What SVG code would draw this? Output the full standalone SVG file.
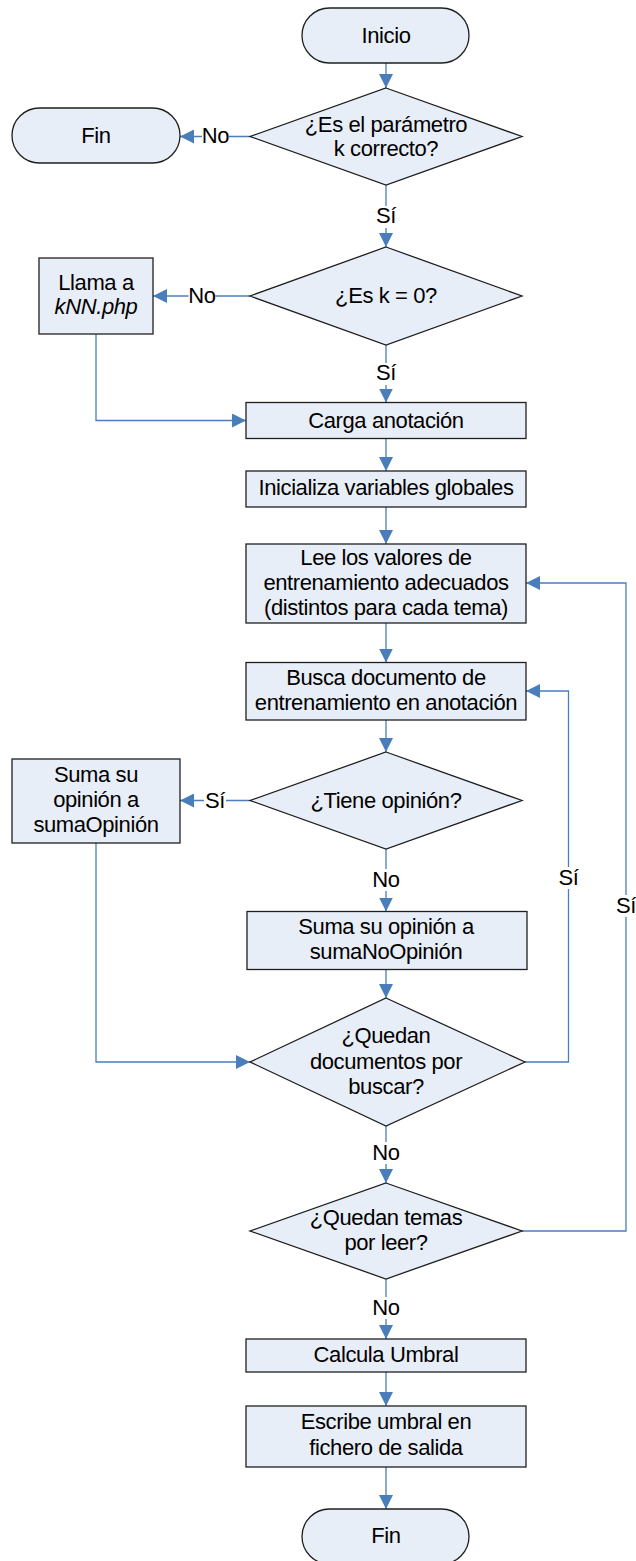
<svg xmlns="http://www.w3.org/2000/svg" width="636" height="1561" viewBox="0 0 636 1561">
  <style>
    .shape { fill: #E8EEF7; stroke: #1f1f1f; stroke-width: 1.3; }
    .t { font-family: "Liberation Sans", Arial, sans-serif; font-size: 22px; letter-spacing: -0.4px; fill: #000; text-anchor: middle; }
    .it { font-style: italic; }
    .edge { fill: none; stroke: #4A7EBB; stroke-width: 1.3; }
    .lblbg { fill: #ffffff; }
  </style>
  <defs>
    <marker id="ah" markerUnits="userSpaceOnUse" markerWidth="15" markerHeight="14" refX="14" refY="7" orient="auto">
      <path d="M0,0 L14,7 L0,14 z" fill="#4A7EBB"/>
    </marker>
  </defs>

  <rect width="636" height="1561" fill="#ffffff"/>

  <!-- connectors -->
  <g id="connectors">
    <path class="edge" d="M386,63 V88" marker-end="url(#ah)"/>
    <path class="edge" d="M250,136.5 H180" marker-end="url(#ah)"/>
    <path class="edge" d="M386,185 V247" marker-end="url(#ah)"/>
    <path class="edge" d="M250,296 H153" marker-end="url(#ah)"/>
    <path class="edge" d="M386,345 V402.5" marker-end="url(#ah)"/>
    <path class="edge" d="M96,334 V420.5 H246" marker-end="url(#ah)"/>
    <path class="edge" d="M386,438.5 V471" marker-end="url(#ah)"/>
    <path class="edge" d="M386,507 V544" marker-end="url(#ah)"/>
    <path class="edge" d="M386,623 V662.5" marker-end="url(#ah)"/>
    <path class="edge" d="M386,720 V752" marker-end="url(#ah)"/>
    <path class="edge" d="M250,800.5 H180" marker-end="url(#ah)"/>
    <path class="edge" d="M386,849 V911.5" marker-end="url(#ah)"/>
    <path class="edge" d="M386,969.5 V998" marker-end="url(#ah)"/>
    <path class="edge" d="M96,843 V1062 H250" marker-end="url(#ah)"/>
    <path class="edge" d="M525,1062 H568.5 V691 H526" marker-end="url(#ah)"/>
    <path class="edge" d="M386,1126 V1183" marker-end="url(#ah)"/>
    <path class="edge" d="M522,1231 H626 V583 H526" marker-end="url(#ah)"/>
    <path class="edge" d="M386,1279 V1339" marker-end="url(#ah)"/>
    <path class="edge" d="M386,1372 V1406" marker-end="url(#ah)"/>
    <path class="edge" d="M386,1467 V1509" marker-end="url(#ah)"/>

    <!-- branch labels -->
    <g id="labels">
      <rect class="lblbg" x="202" y="125" width="27" height="22"/>
      <text class="t" x="215.5" y="143">No</text>
      <rect class="lblbg" x="375" y="206" width="22" height="22"/>
      <text class="t" x="386" y="223">Sí</text>
      <rect class="lblbg" x="188.5" y="285" width="27" height="22"/>
      <text class="t" x="202" y="303">No</text>
      <rect class="lblbg" x="375" y="363" width="22" height="22"/>
      <text class="t" x="386" y="380">Sí</text>
      <rect class="lblbg" x="204" y="790" width="22" height="22"/>
      <text class="t" x="215" y="808">Sí</text>
      <rect class="lblbg" x="372.5" y="869" width="27" height="22"/>
      <text class="t" x="386" y="887">No</text>
      <rect class="lblbg" x="557.5" y="867" width="22" height="22"/>
      <text class="t" x="568.5" y="885">Sí</text>
      <rect class="lblbg" x="615" y="895" width="22" height="22"/>
      <text class="t" x="626" y="913">Sí</text>
      <rect class="lblbg" x="372.5" y="1142" width="27" height="22"/>
      <text class="t" x="386" y="1160">No</text>
      <rect class="lblbg" x="372.5" y="1297" width="27" height="22"/>
      <text class="t" x="386" y="1315">No</text>
    </g>
  </g>

  <!-- nodes -->
  <g id="inicio">
    <rect class="shape" x="302" y="8" width="167" height="55" rx="27.5" ry="27.5"/>
    <text class="t" x="386" y="43">Inicio</text>
  </g>

  <g id="check-k">
    <polygon class="shape" points="386,88 522,136.5 386,185 250,136.5"/>
    <text class="t" x="386" y="132">¿Es el parámetro</text>
    <text class="t" x="386" y="156">k correcto?</text>
  </g>

  <g id="fin-early">
    <rect class="shape" x="12" y="108" width="168" height="55" rx="27.5" ry="27.5"/>
    <text class="t" x="96" y="143">Fin</text>
  </g>

  <g id="check-k-zero">
    <polygon class="shape" points="386,247 522,296 386,345 250,296"/>
    <text class="t" x="386" y="303">¿Es k = 0?</text>
  </g>

  <g id="call-knn">
    <rect class="shape" x="39" y="258" width="114" height="76"/>
    <text class="t" x="96" y="290">Llama a</text>
    <text class="t it" x="96" y="314">kNN.php</text>
  </g>

  <g id="load-annotation">
    <rect class="shape" x="246" y="402.5" width="280" height="36"/>
    <text class="t" x="386" y="428">Carga anotación</text>
  </g>

  <g id="init-globals">
    <rect class="shape" x="246" y="471" width="280" height="36"/>
    <text class="t" x="386" y="495">Inicializa variables globales</text>
  </g>

  <g id="read-training">
    <rect class="shape" x="246" y="544" width="280" height="79"/>
    <text class="t" x="386" y="565">Lee los valores de</text>
    <text class="t" x="386" y="590">entrenamiento adecuados</text>
    <text class="t" x="386" y="615">(distintos para cada tema)</text>
  </g>

  <g id="find-document">
    <rect class="shape" x="246" y="662.5" width="280" height="57.5"/>
    <text class="t" x="386" y="685">Busca documento de</text>
    <text class="t" x="386" y="710">entrenamiento en anotación</text>
  </g>

  <g id="has-opinion">
    <polygon class="shape" points="386,752 522,800.5 386,849 250,800.5"/>
    <text class="t" x="386" y="808">¿Tiene opinión?</text>
  </g>

  <g id="add-opinion">
    <rect class="shape" x="12" y="759" width="168" height="84"/>
    <text class="t" x="96" y="782">Suma su</text>
    <text class="t" x="96" y="807">opinión a</text>
    <text class="t" x="96" y="832">sumaOpinión</text>
  </g>

  <g id="add-no-opinion">
    <rect class="shape" x="247" y="911.5" width="280" height="58"/>
    <text class="t" x="386" y="934">Suma su opinión a</text>
    <text class="t" x="386" y="959">sumaNoOpinión</text>
  </g>

  <g id="more-documents">
    <polygon class="shape" points="386,998 525,1062 386,1126 250,1062"/>
    <text class="t" x="386" y="1043">¿Quedan</text>
    <text class="t" x="386" y="1069">documentos por</text>
    <text class="t" x="386" y="1094">buscar?</text>
  </g>

  <g id="more-topics">
    <polygon class="shape" points="386,1183 522,1231 386,1279 250,1231"/>
    <text class="t" x="386" y="1225">¿Quedan temas</text>
    <text class="t" x="386" y="1250">por leer?</text>
  </g>

  <g id="compute-threshold">
    <rect class="shape" x="246" y="1339" width="280" height="33"/>
    <text class="t" x="386" y="1362">Calcula Umbral</text>
  </g>

  <g id="write-threshold">
    <rect class="shape" x="246" y="1406" width="280" height="61"/>
    <text class="t" x="386" y="1429">Escribe umbral en</text>
    <text class="t" x="386" y="1455">fichero de salida</text>
  </g>

  <g id="fin">
    <rect class="shape" x="302" y="1509" width="167" height="55" rx="27.5" ry="27.5"/>
    <text class="t" x="386" y="1543">Fin</text>
  </g>
</svg>
